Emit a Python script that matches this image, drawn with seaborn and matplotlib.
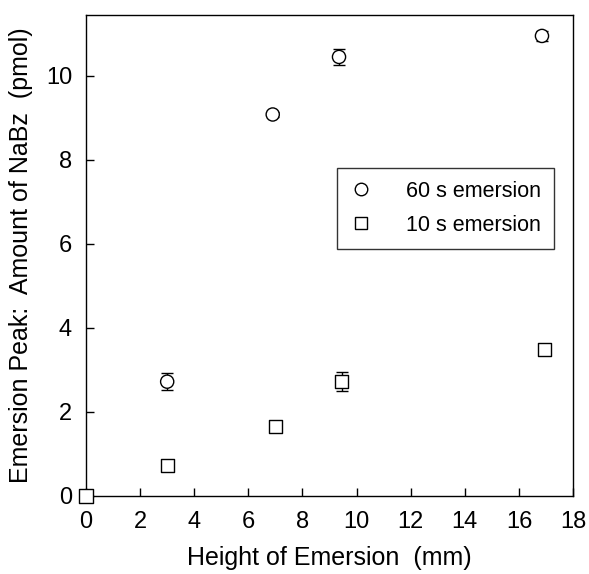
import matplotlib
matplotlib.use("Agg")
import matplotlib.pyplot as plt
import seaborn as sns
import pandas as pd
from matplotlib.lines import Line2D

# Data
x60 = [3.0, 6.9, 9.35, 16.85]
y60 = [2.72, 9.08, 10.45, 10.95]
e60 = [0.2, 0.05, 0.2, 0.12]

x10 = [0.0, 3.0, 7.0, 9.45, 16.95]
y10 = [0.0, 0.72, 1.66, 2.72, 3.48]
e10 = [0.0, 0.05, 0.05, 0.23, 0.05]

labels = ["60 s emersion", "10 s emersion"]

sns.set_style("ticks")
plt.rcParams['font.family'] = ['Liberation Sans', 'DejaVu Sans']
for k in ["text.color", "axes.labelcolor", "xtick.color", "ytick.color", "axes.edgecolor"]:
    plt.rcParams[k] = "black"

df = pd.concat([
    pd.DataFrame({"x": x60, "y": y60, "e": e60, "series": labels[0]}),
    pd.DataFrame({"x": x10, "y": y10, "e": e10, "series": labels[1]}),
], ignore_index=True)

fig = plt.figure(figsize=(5.89, 5.74), dpi=100)
ax = fig.add_axes([0.146, 0.136, 0.827, 0.838])

for lab, g in df.groupby("series", sort=False):
    ax.errorbar(g["x"], g["y"], yerr=g["e"], fmt="none", ecolor="black",
                elinewidth=1.0, capsize=4, capthick=1.0, zorder=2)

sns.scatterplot(data=df, x="x", y="y", style="series", hue="series",
                palette=["black", "black"], markers={labels[0]: "o", labels[1]: "s"},
                s=90, edgecolor="black", linewidth=1.0, ax=ax,
                legend=False, zorder=3, clip_on=False)
for coll in ax.collections:
    coll.set_facecolor("white")
    coll.set_edgecolor("black")
    coll.set_clip_on(False)

handles = [Line2D([], [], marker="o", linestyle="none", markerfacecolor="white",
                  markeredgecolor="black", markersize=9),
           Line2D([], [], marker="s", linestyle="none", markerfacecolor="white",
                  markeredgecolor="black", markersize=8)]
leg = ax.legend(handles, labels, loc="upper left", bbox_to_anchor=(0.515, 0.682),
                frameon=True, fancybox=False, edgecolor="black", fontsize=15.5,
                handletextpad=1.6, borderpad=0.6, labelspacing=0.6,
                handlelength=1.0, borderaxespad=0)
leg.get_frame().set_linewidth(1.0)

ax.set_xlim(0, 18)
ax.set_ylim(0, 11.45)
ax.set_xticks(range(0, 19, 2))
ax.set_yticks(range(0, 11, 2))
ax.tick_params(direction="in", length=6, width=1, labelsize=17)
ax.tick_params(axis="x", pad=11)
ax.tick_params(axis="y", pad=10)
for s in ax.spines.values():
    s.set_linewidth(1.0)
    s.set_color("black")

ax.set_xlabel("Height of Emersion  (mm)", fontsize=18, labelpad=9)
ax.set_ylabel("Emersion Peak:  Amount of NaBz  (pmol)", fontsize=18, labelpad=9)

fig.savefig("out.png", dpi=100)
